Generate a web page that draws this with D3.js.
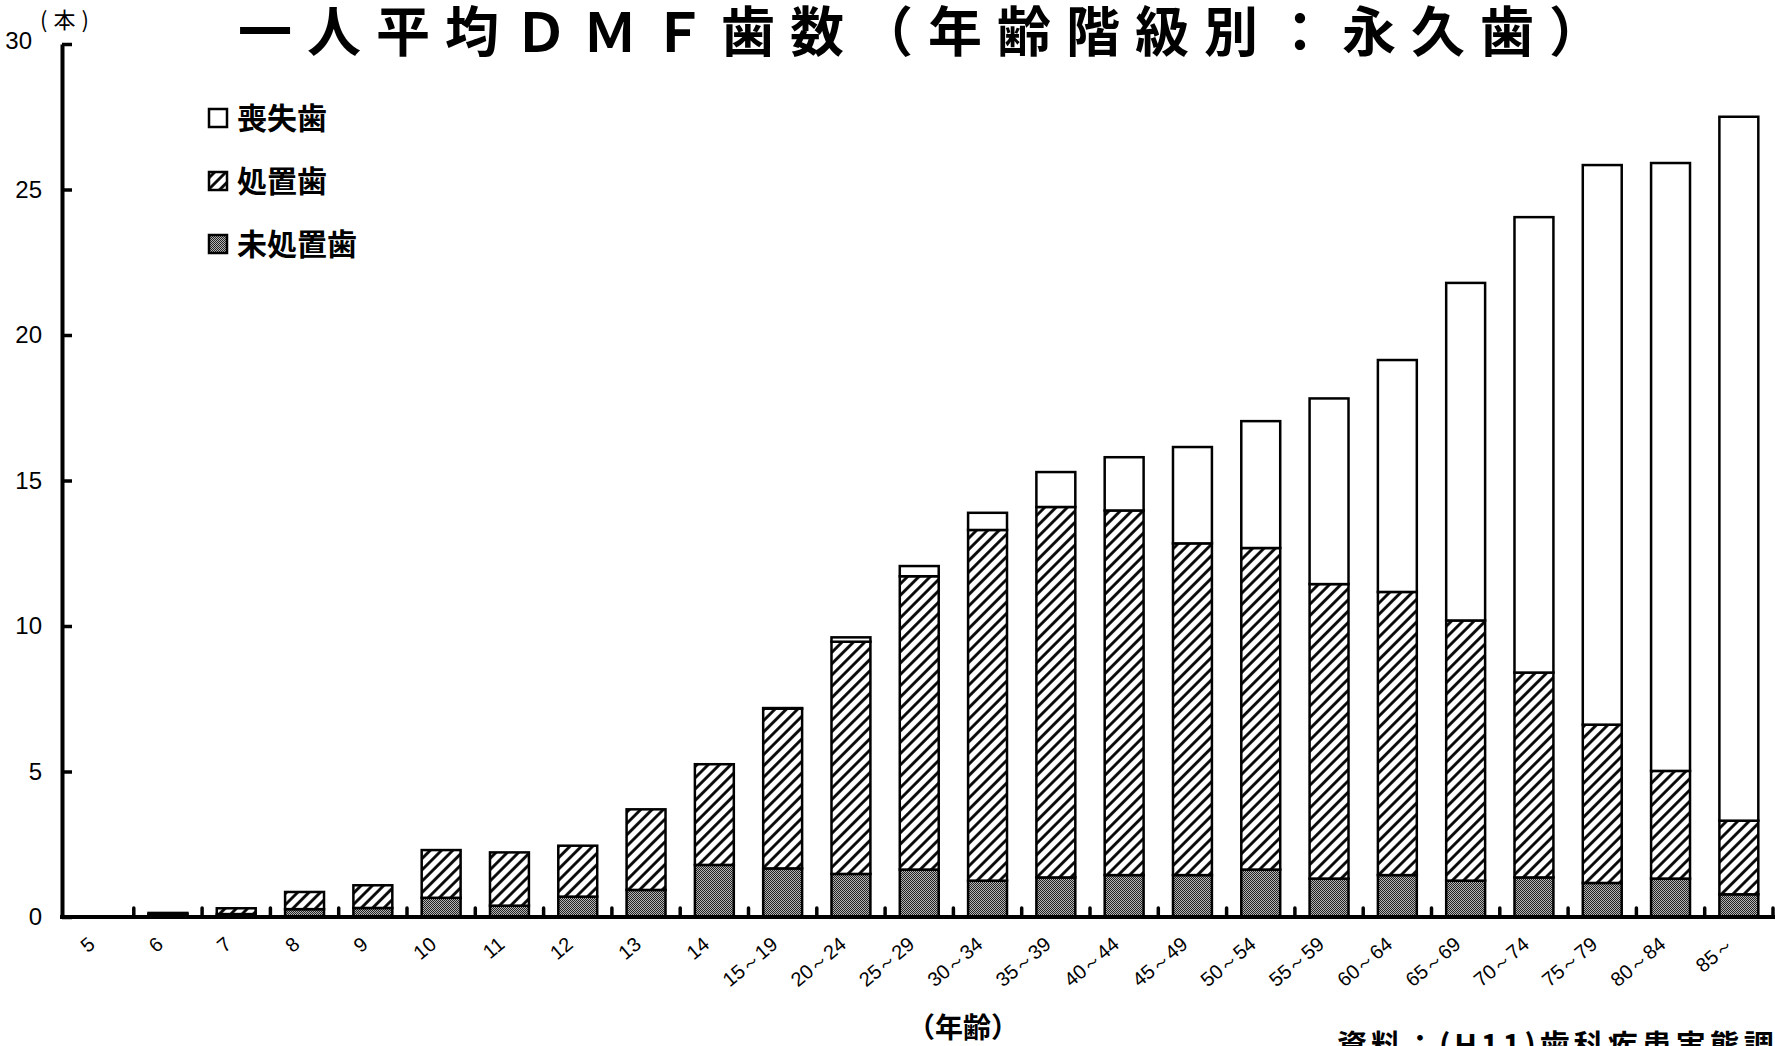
<!DOCTYPE html>
<html><head><meta charset="utf-8">
<script src="https://cdn.jsdelivr.net/npm/d3@7"></script>
<style>
html,body{margin:0;padding:0;background:#fff;overflow:hidden;}
svg{display:block;}
</style></head>
<body>
<svg id="chart" width="1775" height="1046"></svg>
<script>
const categories = ["5","6","7","8","9","10","11","12","13","14","15～19","20～24","25～29","30～34","35～39","40～44","45～49","50～54","55～59","60～64","65～69","70～74","75～79","80～84","85～"];
const untreated = [0, 0.10, 0.10, 0.27, 0.31, 0.66, 0.39, 0.70, 0.93, 1.79, 1.67, 1.48, 1.63, 1.25, 1.36, 1.44, 1.44, 1.63, 1.32, 1.44, 1.25, 1.36, 1.17, 1.32, 0.78];
const treated   = [0, 0.04, 0.20, 0.59, 0.78, 1.64, 1.83, 1.75, 2.77, 3.46, 5.49, 7.98, 10.08, 12.05, 12.73, 12.53, 11.40, 11.05, 10.12, 9.73, 8.94, 7.04, 5.44, 3.70, 2.53];
const missing   = [0, 0, 0, 0, 0, 0, 0, 0, 0, 0, 0.02, 0.15, 0.35, 0.59, 1.20, 1.83, 3.31, 4.36, 6.38, 7.97, 11.60, 15.65, 19.23, 20.89, 24.19];
const seriesKeys = ["untreated","treated","missing"];
const legendLabels = ["喪失歯","処置歯","未処置歯"];
const legendKeys = ["missing","treated","untreated"];
const yTicks = [0,5,10,15,20,25,30];
const titleText = "一人平均ＤＭＦ歯数（年齢階級別：永久歯）";
const yUnit = "(本)";
const xTitle = "（年齢）";
const sourceText = "資料：(H11)歯科疾患実態調査";

const svg = d3.select("#chart");
const defs = svg.append("defs");

// hatch pattern
const hatch = defs.append("pattern").attr("id","hatch").attr("patternUnits","userSpaceOnUse")
  .attr("width",8).attr("height",8).attr("patternTransform","rotate(45)");
hatch.append("rect").attr("width",8).attr("height",8).attr("fill","#fff");
hatch.append("line").attr("x1",1.5).attr("y1",0).attr("x2",1.5).attr("y2",8)
  .attr("stroke","#000").attr("stroke-width",2.8);

// stipple pattern
const stip = defs.append("pattern").attr("id","stipple").attr("patternUnits","userSpaceOnUse")
  .attr("width",2).attr("height",2);
stip.append("rect").attr("width",2).attr("height",2).attr("fill","#b4b4b4");
stip.append("rect").attr("x",0).attr("y",0).attr("width",1).attr("height",1).attr("fill","#222");
stip.append("rect").attr("x",1).attr("y",1).attr("width",1).attr("height",1).attr("fill","#222");

const fills = {untreated:"url(#stipple)", treated:"url(#hatch)", missing:"#fff"};

const x = d3.scaleBand().domain(categories).range([65.5,1773]).paddingInner(0.43).paddingOuter(0.215);
const y = d3.scaleLinear().domain([0,30]).range([917,44]);

const rows = categories.map((c,i)=>({cat:c, untreated:untreated[i], treated:treated[i], missing:missing[i]}));
const stacked = d3.stack().keys(seriesKeys)(rows);

// bars
const g = svg.append("g");
stacked.forEach(layer=>{
  g.selectAll(null).data(layer).enter().append("rect")
    .filter(d=> (d[1]-d[0])>0)
    .attr("x", d=>x(d.data.cat))
    .attr("y", d=>y(d[1]))
    .attr("width", x.bandwidth())
    .attr("height", d=>y(d[0])-y(d[1]))
    .attr("fill", fills[layer.key])
    .attr("stroke","#000").attr("stroke-width",2.5);
});

// y axis
const yAxis = d3.axisLeft(y).tickValues(yTicks).tickSizeInner(-10).tickSizeOuter(0).tickPadding(20);
const ya = svg.append("g").attr("transform","translate(62,0)").call(yAxis);
ya.select(".domain").attr("stroke","#000").attr("stroke-width",4);
ya.selectAll(".tick line").attr("stroke","#000").attr("stroke-width",3.5);
ya.selectAll(".tick text").attr("font-family","'Liberation Sans', Arial, sans-serif")
  .attr("font-size",24).attr("fill","#000");
ya.selectAll(".tick").filter(d=>d===30).select("text").attr("dx",-10).attr("dy","0.2em");

// x axis line
svg.append("line").attr("x1",60).attr("x2",1775).attr("y1",y(0)).attr("y2",y(0))
  .attr("stroke","#000").attr("stroke-width",4);
// boundary ticks
const bounds = categories.slice(1).map(c=>x(c) - x.step()*x.paddingInner()/2);
bounds.push(x(categories[categories.length-1]) + x.bandwidth() + x.step()*x.paddingInner()/2);
svg.selectAll(null).data(bounds).enter().append("line")
  .attr("x1",d=>d).attr("x2",d=>d).attr("y1",y(0)).attr("y2",y(0)-9)
  .attr("stroke","#000").attr("stroke-width",3.5).attr("stroke-linecap","round");

// x labels
svg.selectAll(null).data(categories).enter().append("text")
  .attr("transform", d=>`translate(${x(d)+x.bandwidth()/2-8},${y(0)+24}) rotate(-40)`)
  .attr("text-anchor","end").attr("dy","0.35em")
  .attr("font-family","'Liberation Sans', Arial, sans-serif").attr("font-size",20)
  .text(d=>d);

// title
svg.append("text").attr("x",238).attr("y",52)
  .attr("font-family","'Noto Sans CJK JP', sans-serif").attr("font-weight",700)
  .attr("font-size",54).attr("letter-spacing",15).text(titleText);

// unit
svg.append("text").attr("x",40).attr("y",28)
  .attr("font-family","'Noto Sans CJK JP', sans-serif").attr("font-size",22)
  .attr("letter-spacing",6).text(yUnit);

// legend
const legY = [118,181,244];
legendKeys.forEach((k,i)=>{
  svg.append("rect").attr("x",209).attr("y",legY[i]-9).attr("width",18).attr("height",18)
    .attr("fill",fills[k]).attr("stroke","#000").attr("stroke-width",2.5);
  svg.append("text").attr("x",237).attr("y",legY[i]).attr("dy","0.36em")
    .attr("font-family","'Noto Sans CJK JP', sans-serif").attr("font-weight",700)
    .attr("font-size",30).text(legendLabels[i]);
});

// x title
svg.append("text").attr("x",963).attr("y",1028).attr("dy","0.36em").attr("text-anchor","middle")
  .attr("font-family","'Noto Sans CJK JP', sans-serif").attr("font-weight",700)
  .attr("font-size",28).text(xTitle);

// source
svg.append("text").attr("x",1337).attr("y",1056)
  .attr("font-family","'Noto Sans CJK JP', sans-serif").attr("font-weight",700)
  .attr("font-size",30).attr("letter-spacing",4).text(sourceText);
</script>
</body></html>
